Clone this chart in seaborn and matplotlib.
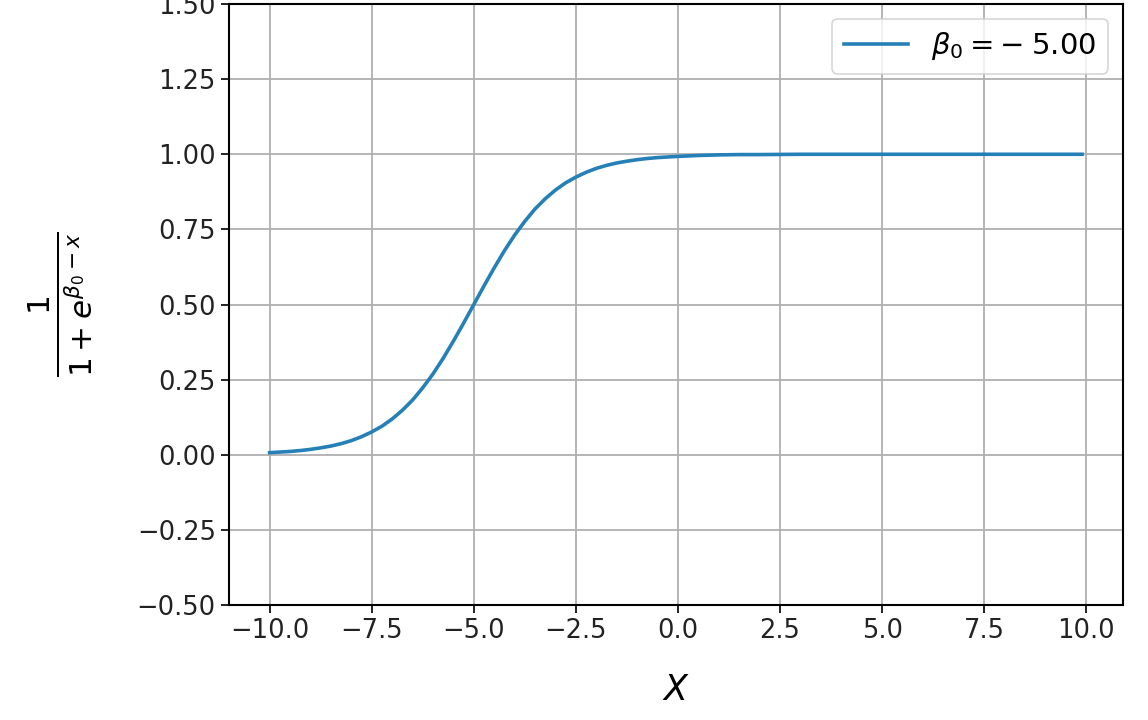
import matplotlib
matplotlib.use("Agg")
import matplotlib.pyplot as plt
import seaborn as sns

# values (beta_0 = -5)
x_vals = [-10, -9.75, -9.5, -9.25, -9, -8.75, -8.5, -8.25, -8, -7.75, -7.5, -7.25,
          -7, -6.75, -6.5, -6.25, -6, -5.75, -5.5, -5.25, -5, -4.75, -4.5, -4.25,
          -4, -3.75, -3.5, -3.25, -3, -2.75, -2.5, -2.25, -2, -1.75, -1.5, -1.25,
          -1, -0.75, -0.5, -0.25, 0, 0.5, 1, 1.5, 2, 3, 4, 5, 6, 7, 8, 9, 9.9]
y_vals = [0.007, 0.009, 0.011, 0.014, 0.018, 0.023, 0.029, 0.037, 0.047, 0.060,
          0.076, 0.095, 0.119, 0.148, 0.182, 0.223, 0.269, 0.321, 0.378, 0.438,
          0.5, 0.562, 0.622, 0.679, 0.731, 0.777, 0.818, 0.852, 0.881, 0.905,
          0.924, 0.940, 0.953, 0.963, 0.971, 0.977, 0.982, 0.986, 0.989, 0.991,
          0.993, 0.996, 0.998, 0.999, 0.999, 1.0, 1.0, 1.0, 1.0, 1.0, 1.0, 1.0, 1.0]
legend_label = r"$\beta_0 = -\;5.00$"
y_ticks = [-0.5, -0.25, 0.0, 0.25, 0.5, 0.75, 1.0, 1.25, 1.5]

fig = plt.figure(figsize=(11.48, 7.2), dpi=100)
ax = fig.add_axes([0.1995, 0.1597, 0.7785, 0.8347])

sns.lineplot(x=x_vals, y=y_vals, ax=ax, color="#2580b8", linewidth=2.6, label=legend_label)

ax.set_ylim(-0.5, 1.5)
ax.set_yticks(y_ticks)
ax.grid(True, color="#b0b0b0", linewidth=1.3)
ax.set_axisbelow(True)
ax.tick_params(labelsize=18.5, length=6, width=1.4, colors="#222222")
for s in ax.spines.values():
    s.set_linewidth(1.5)

ax.set_xlabel(r"$X$", fontsize=25, labelpad=21)
ax.set_ylabel(r"$\frac{1}{1+e^{\beta_0 - x}}$", fontsize=32, labelpad=31)

leg = ax.legend(loc="upper right", fontsize=21, handlelength=2.2, framealpha=0.8)
leg.get_frame().set_linewidth(1.2)

fig.savefig("out.png", dpi=100)
